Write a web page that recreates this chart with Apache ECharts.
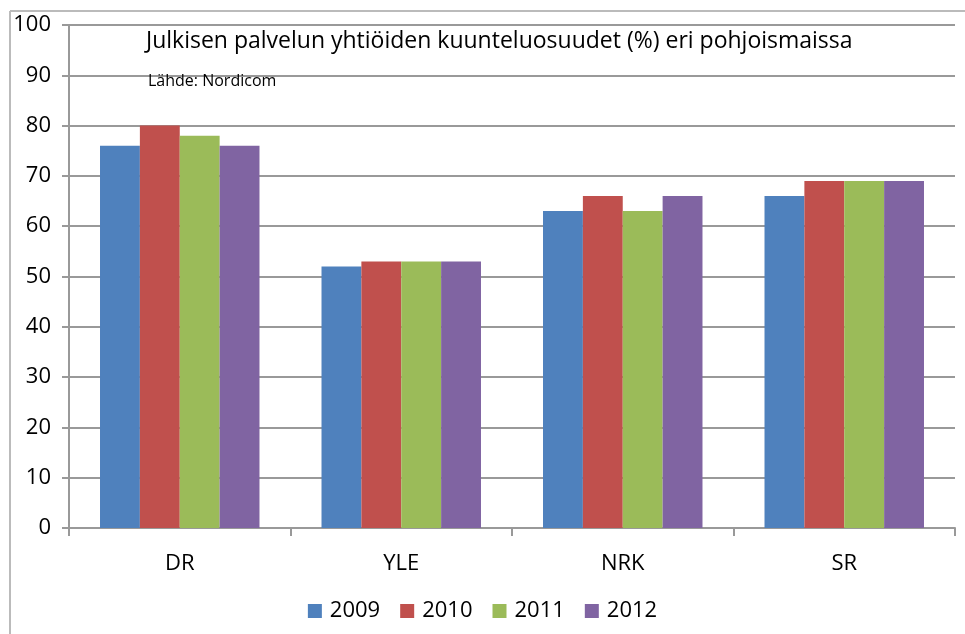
<!DOCTYPE html>
<html>
<head>
<meta charset="utf-8">
<script src="https://cdn.jsdelivr.net/npm/echarts@6/dist/echarts.min.js"></script>
<style>
  html, body { margin: 0; padding: 0; background: #fff; }
  #chart { width: 965px; height: 634px; }
</style>
</head>
<body>
<div id="chart"></div>
<script>
const categories = ['DR', 'YLE', 'NRK', 'SR']
const years = ['2009', '2010', '2011', '2012']
const values2009 = [76, 52, 63, 66]
const values2010 = [80, 53, 66, 69]
const values2011 = [78, 53, 63, 69]
const values2012 = [76, 53, 66, 69]
const colors = ['#4F81BD', '#C0504D', '#9BBB59', '#8064A2']

const font = '"Open Sans", "Noto Sans", sans-serif'
const seriesData = [values2009, values2010, values2011, values2012]

const chart = echarts.init(document.getElementById('chart'))
chart.setOption({
  animation: false,
  textStyle: { fontFamily: font },
  graphic: [
    { type: 'line', shape: { x1: 10, y1: 11, x2: 965, y2: 11 }, style: { stroke: '#bbb', lineWidth: 2 } },
    { type: 'line', shape: { x1: 10, y1: 11, x2: 10, y2: 634 }, style: { stroke: '#bbb', lineWidth: 2 } },
    {
      type: 'text', left: 146, top: 30, z: 100,
      style: { text: 'Julkisen palvelun yhtiöiden kuunteluosuudet (%) eri pohjoismaissa', fill: '#000', fontSize: 23, fontFamily: font }
    },
    {
      type: 'text', left: 148, top: 73, z: 100,
      style: { text: 'Lähde: Nordicom', fill: '#000', fontSize: 16, fontFamily: font }
    }
  ],
  grid: { left: 69, right: 10, top: 25, bottom: 106 },
  legend: {
    bottom: 7,
    left: 'center',
    itemWidth: 14,
    itemHeight: 14,
    itemGap: 20,
    icon: 'rect',
    textStyle: { fontSize: 22, color: '#000', fontFamily: font, padding: [0, 0, 0, 3] },
    data: years
  },
  xAxis: {
    type: 'category',
    data: categories,
    axisLine: { lineStyle: { color: '#999', width: 2 } },
    axisTick: { show: true, length: 8, lineStyle: { color: '#999', width: 2 } },
    axisLabel: { color: '#000', fontSize: 22, margin: 25, fontFamily: font }
  },
  yAxis: {
    type: 'value',
    min: 0,
    max: 100,
    interval: 10,
    axisLine: { show: true, lineStyle: { color: '#999', width: 2 } },
    axisTick: { show: true, length: 7, lineStyle: { color: '#999', width: 2 } },
    axisLabel: { color: '#000', fontSize: 22, margin: 18, fontFamily: font },
    splitLine: { show: true, lineStyle: { color: '#999', width: 2 } }
  },
  series: years.map((y, i) => ({
    name: y,
    type: 'bar',
    data: seriesData[i],
    barGap: '0%',
    barCategoryGap: '28%',
    itemStyle: { color: colors[i] }
  }))
})
</script>
</body>
</html>
